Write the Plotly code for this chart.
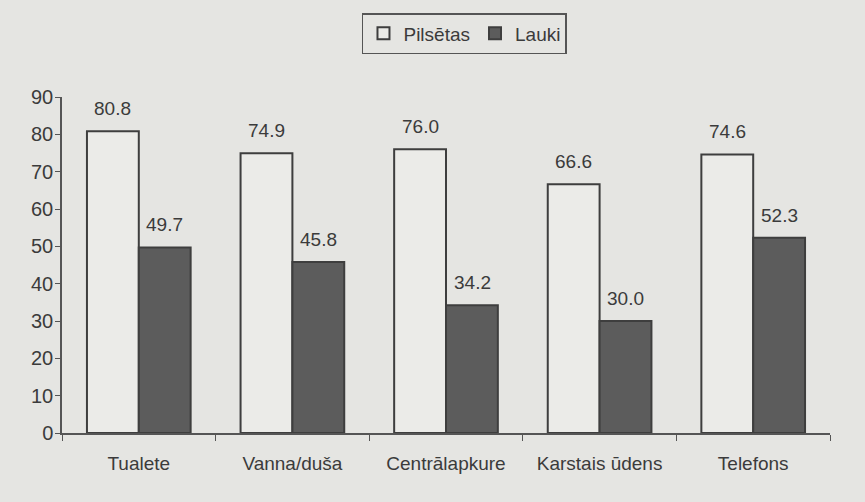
import plotly.graph_objects as go

categories = ["Tualete", "Vanna/duša", "Centrālapkure", "Karstais ūdens", "Telefons"]
pilsetas = [80.8, 74.9, 76.0, 66.6, 74.6]
lauki = [49.7, 45.8, 34.2, 30.0, 52.3]
series_names = ["Pilsētas", "Lauki"]

bg = "#e5e5e2"
ink = "#3b3b3b"
FONT = "Liberation Sans, Arial, sans-serif"

fig = go.Figure()
fig.add_trace(go.Bar(
    x=categories, y=pilsetas, name=series_names[0],
    marker=dict(color="#ebebe8", line=dict(color="#3e3e3e", width=2)),
))
fig.add_trace(go.Bar(
    x=categories, y=lauki, name=series_names[1],
    marker=dict(color="#5c5c5c", line=dict(color="#3e3e3e", width=2)),
))

# value labels above the bars
annotations = []
for vals, shift in ((pilsetas, -26), (lauki, 26)):
    for c, v in zip(categories, vals):
        annotations.append(dict(
            x=c, y=v, xref="x", yref="y", text=f"{v:.1f}", showarrow=False,
            xshift=shift, yshift=10, yanchor="bottom", xanchor="center",
            font=dict(family=FONT, size=19, color=ink),
        ))

fig.update_layout(
    width=865, height=502,
    paper_bgcolor=bg, plot_bgcolor=bg,
    margin=dict(l=62, r=35, t=97, b=69),
    barmode="group", bargap=0.325, bargroupgap=0,
    font=dict(family=FONT, size=19, color=ink),
    annotations=annotations,
    showlegend=True,
    legend=dict(
        orientation="h", x=0.3906, y=1.25, xanchor="left", yanchor="top",
        bordercolor="#555555", borderwidth=1.5, bgcolor=bg,
        font=dict(family=FONT, size=19, color=ink),
    ),
    xaxis=dict(
        type="category", showgrid=False, showline=True, linecolor="#555555", linewidth=1.5,
        ticks="outside", tickson="boundaries", ticklen=6, tickcolor="#555555",
        tickfont=dict(family=FONT, size=19, color=ink), ticklabelstandoff=12,
        tickangle=0, automargin=False,
    ),
    yaxis=dict(
        range=[0, 90], dtick=10, showgrid=False, showline=True, linecolor="#555555", linewidth=1.5,
        ticks="outside", ticklen=5, tickcolor="#555555", zeroline=False,
        tickfont=dict(family=FONT, size=20, color=ink), ticklabelstandoff=-2,
        automargin=False,
    ),
)

fig.write_html("out.html", config={"displayModeBar": False},
               post_script="document.body.style.margin='0px';")
